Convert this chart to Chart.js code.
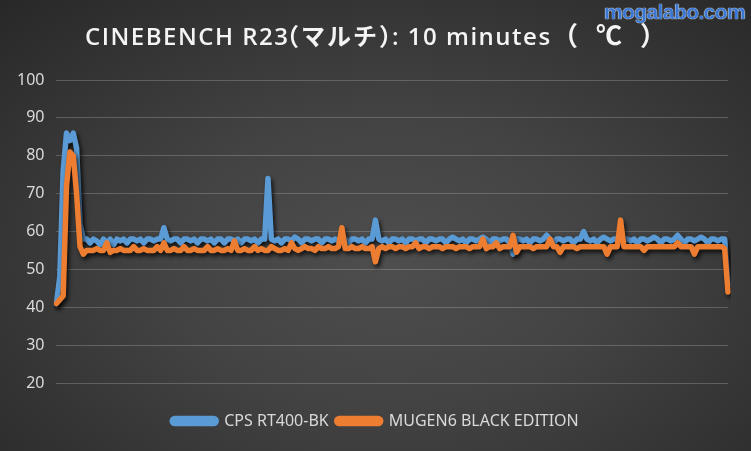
<!DOCTYPE html>
<html>
<head>
<meta charset="utf-8">
<script src="https://cdn.jsdelivr.net/npm/chart.js@4/dist/chart.umd.min.js"></script>
<style>
  html, body { margin: 0; padding: 0; }
  body {
    width: 751px; height: 451px; overflow: hidden; position: relative;
    background: radial-gradient(ellipse 75% 80% at 52% 58%, #4e4e4e 0%, #434343 40%, #333333 75%, #282828 100%);
  }
  #wrap { position: absolute; left: 0; top: 0; width: 751px; height: 451px; }
  #mark {
    position: absolute; right: 6px; top: 0px;
    font-family: "Liberation Sans", Arial, sans-serif; font-weight: bold; font-size: 21px;
    color: #3a78d4; letter-spacing: -0.6px;
    text-shadow: 0 0 1px #fff, 0 0 1px #fff;
  }
</style>
</head>
<body>
<div id="wrap"><canvas id="c" width="751" height="451"></canvas></div>
<div id="mark">mogalabo.com</div>
<script>
const titleParts = ["CINEBENCH R23", "（マルチ）", ": 10 minutes", "（℃）"];
const titleText = titleParts.join("");
const seriesNames = ["CPS RT400-BK", "MUGEN6 BLACK EDITION"];
const yTicks = [20, 30, 40, 50, 60, 70, 80, 90, 100];

// one sample every 3 seconds over 10 minutes
const cpsRT400 = [
  41, 48, 76, 86, 84, 86, 82, 62, 58, 58,
  57, 58, 57.5, 56.5, 58, 57, 58, 56.5, 58, 57.5,
  58, 57, 58, 58, 57.5, 58, 57, 58, 58, 57.5,
  58, 58, 61, 58, 57.5, 58, 58, 57, 58, 58,
  57.5, 58, 57, 58, 58, 57.5, 58, 57, 58, 58,
  57, 58, 58, 57.5, 58, 57, 58, 58, 57.5, 58,
  57, 58, 58, 74, 58, 57.5, 58, 57, 58, 58,
  57.5, 58.5, 58, 57, 58, 58, 57.5, 58, 58, 57,
  58, 58, 57.5, 58, 57.5, 58, 58, 57, 58, 58,
  57.5, 58, 57, 58, 58, 63, 58, 57.5, 58, 57,
  58, 58, 57.5, 58, 57, 58, 58, 57.5, 58, 58,
  57, 58, 58, 57.5, 58, 58, 57, 58, 58.5, 58,
  57.5, 58, 57, 58, 58, 57.5, 58, 58.5, 58, 57,
  58, 58, 57.5, 58, 58, 57, 54, 58, 58, 57.5,
  58, 57, 58, 58, 57.5, 58, 59, 58, 57, 58,
  58, 57.5, 58, 58, 57, 58, 58, 60, 58, 57.5,
  58, 57, 58, 58.5, 58, 57.5, 58, 58, 57, 58,
  58, 57.5, 58, 57, 58, 58, 57.5, 58, 58.5, 58,
  57, 58, 58, 57.5, 58, 59, 58, 57, 58, 58,
  57.5, 58, 58.5, 58, 57, 58, 58, 57.5, 58, 58,
  46
];
const mugen6 = [
  41, 42, 43, 72, 81, 80, 70, 56, 54, 55,
  55, 55, 55.5, 55, 55, 57, 54.5, 55, 55, 55.5,
  55, 55, 55, 56, 55, 55, 55.5, 55, 55, 55,
  56, 55, 57, 55, 55, 55.5, 55, 55, 56, 55,
  55, 55.5, 55, 55, 55, 56, 55, 55, 55.5, 55,
  55, 55.5, 55, 57.5, 55, 55, 55.5, 55, 55, 56,
  55, 55.5, 55, 55, 56, 55.5, 55, 55, 55.5, 55,
  57, 55.5, 55, 55.5, 56, 55.5, 55.5, 55, 56, 55.5,
  55.5, 56, 55.5, 55.5, 56, 61, 55.5, 55.5, 56, 55.5,
  55.5, 56, 55.5, 55.5, 56, 52, 55.5, 56, 55.5, 56,
  56, 55.5, 56, 56, 55.5, 56, 56, 57, 55.5, 56,
  56, 55.5, 56, 56, 56, 55.5, 56, 56, 56, 55.5,
  56, 56, 56, 55.5, 56, 56, 56, 58, 55.5, 56,
  56, 57, 55.5, 56, 56, 56, 59, 54.5, 56, 56,
  56, 56, 55.5, 56, 56, 56, 56, 58, 56, 56,
  54.5, 56, 56, 56, 56, 55.5, 56, 56, 56, 56,
  56, 56, 56, 56, 54, 56, 56, 56, 63, 56,
  56, 56, 56, 56, 56, 55, 56, 56, 56, 56,
  56, 56, 56, 56, 56, 57, 56, 56, 56, 56,
  54, 56, 56, 56, 56, 56, 56, 56, 56, 55.5,
  44
];
const timeLabels = cpsRT400.map((_, i) => i * 3);

const shadowPlugin = {
  id: 'shadow',
  beforeDatasetDraw(chart) {
    const ctx = chart.ctx;
    ctx.save();
    ctx.shadowColor = 'rgba(0,0,0,0.75)';
    ctx.shadowBlur = 4;
    ctx.shadowOffsetX = 2;
    ctx.shadowOffsetY = 3;
  },
  afterDatasetDraw(chart) { chart.ctx.restore(); }
};

const legendShift = {
  id: 'legendShift',
  afterLayout(chart) {
    if (chart.legend) { chart.legend.left += 9; chart.legend.right += 9; }
  }
};

const titlePlugin = {
  id: 'customTitle',
  afterDraw(chart) {
    const ctx = chart.ctx;
    const inkLeft = [86, 290, 393, 569];
    const spacing = [1.5, 2, 1.5, 18];
    const sizes = [24, 24, 24, 26];
    ctx.save();
    ctx.fillStyle = '#f4f4f4';
    ctx.textBaseline = 'alphabetic';
    ctx.textAlign = 'left';
    titleParts.forEach((t, i) => {
      ctx.font = '600 ' + sizes[i] + 'px "Open Sans", "Noto Sans CJK JP", sans-serif';
      ctx.letterSpacing = spacing[i] + 'px';
      const m = ctx.measureText(t);
      ctx.fillText(t, inkLeft[i] + m.actualBoundingBoxLeft, 45);
    });
    ctx.restore();
  }
};

new Chart(document.getElementById('c'), {
  type: 'line',
  data: {
    labels: timeLabels,
    datasets: [
      {
        label: seriesNames[0], data: cpsRT400,
        borderColor: '#5b9bd5', backgroundColor: '#5b9bd5',
        borderWidth: 5.5, pointRadius: 0, tension: 0,
        borderJoinStyle: 'round', borderCapStyle: 'round', order: 1
      },
      {
        label: seriesNames[1], data: mugen6,
        borderColor: '#ed7d31', backgroundColor: '#ed7d31',
        borderWidth: 5.5, pointRadius: 0, tension: 0,
        borderJoinStyle: 'round', borderCapStyle: 'round', order: 0
      }
    ]
  },
  options: {
    responsive: false,
    animation: false,
    devicePixelRatio: 1,
    layout: { padding: { left: 5, right: 23, top: 80, bottom: 12 } },
    plugins: {
      title: { display: false },
      tooltip: { enabled: false },
      legend: {
        display: true, position: 'bottom',
        labels: {
          color: '#d9d9d9',
          font: { family: '"Noto Sans", sans-serif', size: 16 },
          boxWidth: 44, boxHeight: 5, padding: 8,
          useBorderRadius: true, borderRadius: 2.5,
          sort: (a, b) => a.datasetIndex - b.datasetIndex
        }
      }
    },
    scales: {
      x: {
        type: 'category', display: true, offset: false,
        ticks: { display: false }, grid: { display: false }, border: { display: false },
        afterFit(scale) { scale.height = 22; }
      },
      y: {
        min: 20, max: 100,
        afterBuildTicks(scale) { scale.ticks = yTicks.map(v => ({ value: v })); },
        ticks: {
          color: '#d9d9d9', padding: 12,
          font: { family: '"Noto Sans", sans-serif', size: 16 }
        },
        grid: { color: 'rgba(200,200,200,0.28)', lineWidth: 1, drawTicks: false },
        border: { display: false }
      }
    }
  },
  plugins: [shadowPlugin, legendShift, titlePlugin]
});
</script>
</body>
</html>
